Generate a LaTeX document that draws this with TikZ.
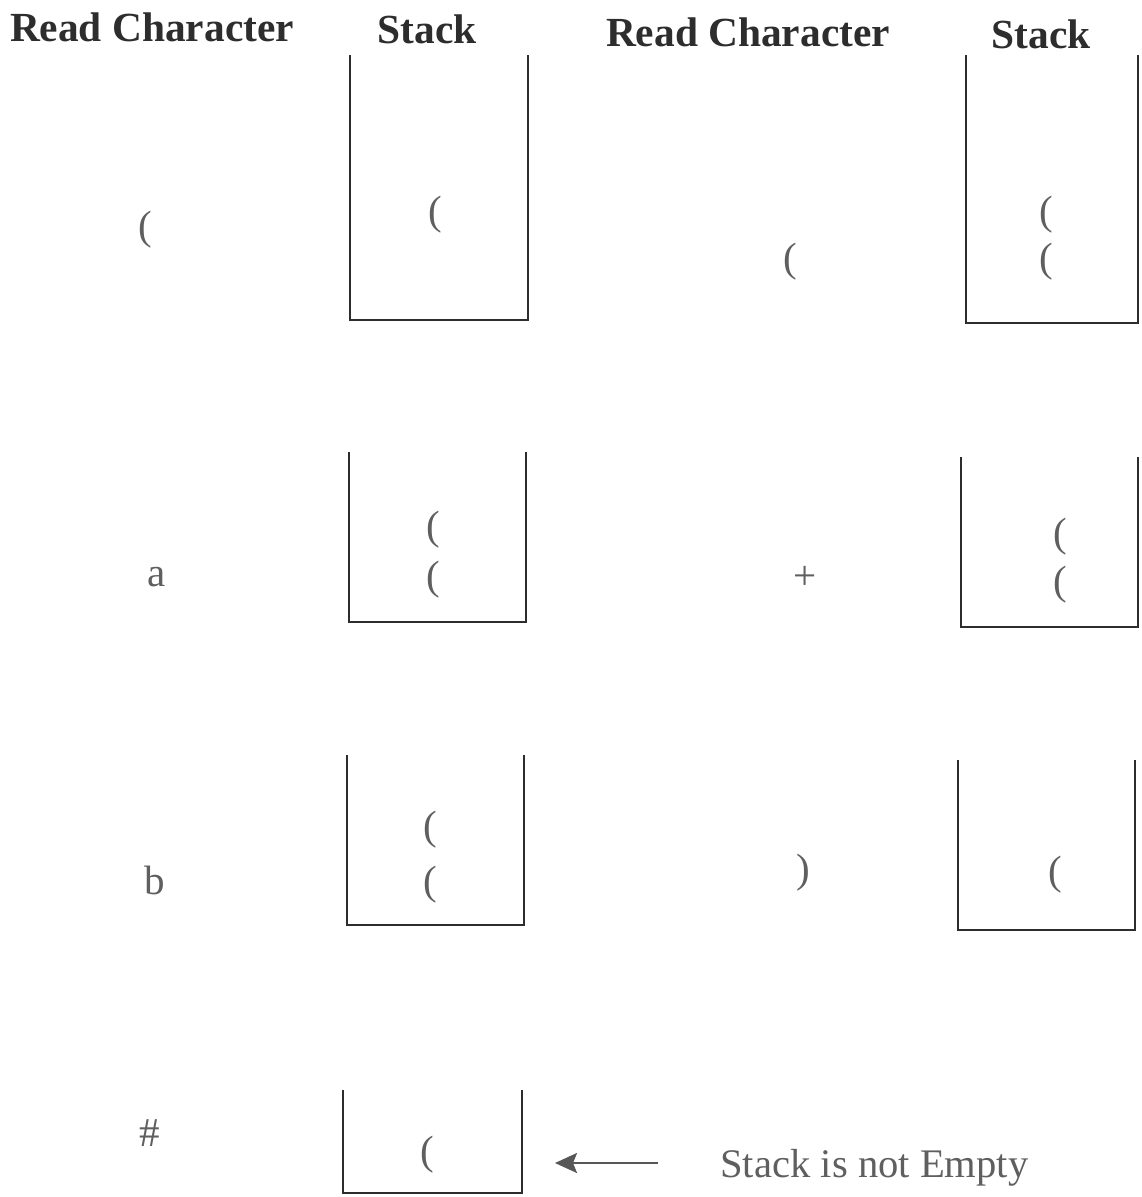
\documentclass[tikz,border=0pt]{standalone}
\usepackage{fontspec}
\setmainfont{Liberation Serif}
\usepackage{xcolor}
\usepackage{tikz}
\usetikzlibrary{arrows.meta}
\definecolor{ink}{RGB}{45,45,45}
\definecolor{soft}{RGB}{95,95,95}

\begin{document}
\begin{tikzpicture}[x=0.5pt,y=-0.5pt,>={Stealth[length=11pt,width=10pt,inset=2pt]},
      head/.style={inner sep=0pt,text=ink,font=\fontsize{20.7}{24}\bfseries},
      sym/.style={inner sep=0pt,text=soft,font=\fontsize{20.5}{24}\selectfont},
      stk/.style={draw=ink,line width=0.9pt},
      note/.style={inner sep=0pt,anchor=west,text=soft,font=\fontsize{20.3}{24}\selectfont}]
    \useasboundingbox (0,0) rectangle (1141,1197);
    % column headings
    \node[head] (rc1) at (152,27) {Read Character};
    \node[head] (st1) at (427,29) {Stack};
    \node[head] (rc2) at (748,32) {Read Character};
    \node[head] (st2) at (1041,34) {Stack};
    % characters read
    \node[sym] (c1) at (145,230) {(};
    \node[sym] (c2) at (157,577) {a};
    \node[sym] (c3) at (155,880) {b};
    \node[sym] (c4) at (150,1133) {\#};
    \node[sym] (c5) at (790,262) {(};
    \node[sym] (c6) at (805,578) {+};
    \node[sym] (c7) at (803,873) {)};
    % stacks, left column
    \draw[stk] (350,55) |- (528,320) -- (528,55);
    \node[sym] (s1a) at (435,215) {(};
    \draw[stk] (349,452) |- (526,622) -- (526,452);
    \node[sym] (s2a) at (433,530) {(};
    \node[sym] (s2b) at (433,580) {(};
    \draw[stk] (347,755) |- (524,925) -- (524,755);
    \node[sym] (s3a) at (430,830) {(};
    \node[sym] (s3b) at (430,885) {(};
    \draw[stk] (343,1090) |- (522,1193) -- (522,1090);
    \node[sym] (s4a) at (427,1155) {(};
    % stacks, right column
    \draw[stk] (966,55) |- (1138,323) -- (1138,55);
    \node[sym] (s5a) at (1046,215) {(};
    \node[sym] (s5b) at (1046,262) {(};
    \draw[stk] (961,457) |- (1138,627) -- (1138,457);
    \node[sym] (s6a) at (1060,537) {(};
    \node[sym] (s6b) at (1060,585) {(};
    \draw[stk] (958,760) |- (1135,930) -- (1135,760);
    \node[sym] (s7a) at (1055,875) {(};
    % remark
    \node[note] (msg) at (720,1168) {Stack is not Empty};
    \coordinate (atail) at (658,1163);
    \coordinate (ahead) at (555,1163);
    \draw[->,ink!80,line width=1.2pt] (atail) -- (ahead);
  \end{tikzpicture}
\end{document}
